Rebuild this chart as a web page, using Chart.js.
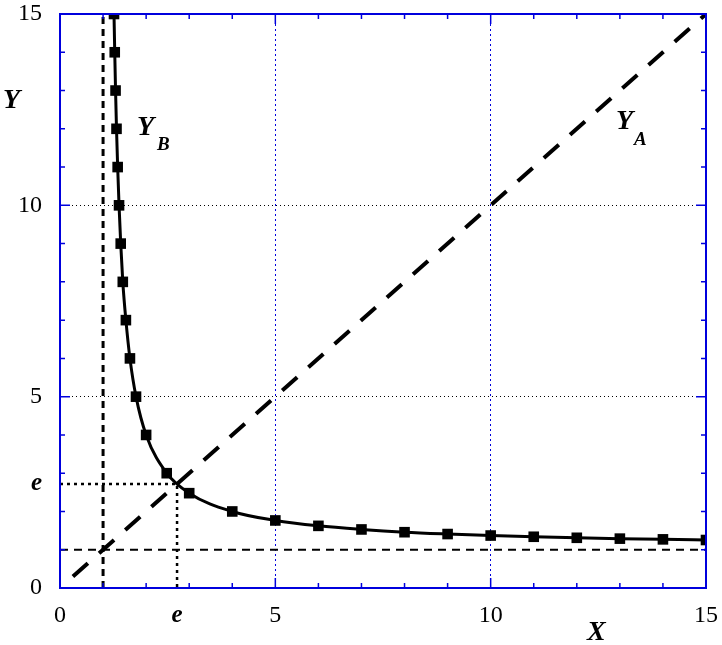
<!DOCTYPE html>
<html>
<head>
<meta charset="utf-8">
<script src="https://cdn.jsdelivr.net/npm/chart.js@4.4.1/dist/chart.umd.min.js"></script>
<style>
  body { margin: 0; background: #fff; }
  #wrap { width: 722px; height: 645px; }
</style>
</head>
<body>
<div id="wrap"><canvas id="curveChart" width="722" height="645"></canvas></div>
<script>
const E = 2.718;

// Y_B curve points (x^y = y^x branch)
const bX = [1.254, 1.271, 1.29, 1.312, 1.339, 1.371, 1.41, 1.458, 1.53, 1.624, 1.765, 2, 2.478, 3, 4, 5, 6, 7, 8, 9, 10, 11, 12, 13, 14, 15];
const bY = [15, 14, 13, 12, 11, 10, 9, 8, 7, 6, 5, 4, 3, 2.478, 2, 1.765, 1.624, 1.53, 1.458, 1.41, 1.371, 1.339, 1.312, 1.29, 1.271, 1.254];

// Y_A = X line
const aX = [0.3, 15];
const aY = [0.3, 15];

// asymptotes and e guides
const vOneX = [1, 1];
const vOneY = [0, 15];
const hOneX = [0, 15];
const hOneY = [1, 1];
const eGuideX = [0, E, E];
const eGuideY = [E, E, 0];

const xTickVals = [0, 5, 10, 15, E];
const yTickVals = [0, 5, 10, 15, E];
const minorVals = [1, 2, 3, 4, 5, 6, 7, 8, 9, 10, 11, 12, 13, 14];

const BLUE = '#0000dd';
const SERIF = '"Liberation Serif", "Times New Roman", Times, serif';

const pts = (xs, ys) => xs.map((x, i) => ({ x: x, y: ys[i] }));

function tickFont(ctx) {
  if (ctx.tick && ctx.tick.value === E) return { family: SERIF, size: 25, weight: 'bold', style: 'italic' };
  return { family: SERIF, size: 24 };
}
function tickText(v) {
  return v === E ? 'e' : v;
}

// frame, inside ticks and labels
const framePlugin = {
  id: 'frame',
  afterDraw(chart) {
    const { ctx, chartArea: a, scales } = chart;
    const xs = scales.x, ys = scales.y;
    ctx.save();
    ctx.strokeStyle = BLUE;
    ctx.lineWidth = 2;
    ctx.strokeRect(a.left, a.top, a.right - a.left, a.bottom - a.top);
    ctx.lineWidth = 1.5;
    minorVals.forEach(v => {
      const len = (v % 5 === 0) ? 10 : 5;
      const px = xs.getPixelForValue(v);
      const py = ys.getPixelForValue(v);
      ctx.beginPath();
      ctx.moveTo(px, a.bottom); ctx.lineTo(px, a.bottom - len);
      ctx.moveTo(px, a.top); ctx.lineTo(px, a.top + len);
      ctx.moveTo(a.left, py); ctx.lineTo(a.left + len, py);
      ctx.moveTo(a.right, py); ctx.lineTo(a.right - len, py);
      ctx.stroke();
    });

    ctx.fillStyle = '#000';
    ctx.textAlign = 'left';
    ctx.textBaseline = 'alphabetic';
    ctx.font = 'italic bold 28px ' + SERIF;
    ctx.fillText('Y', 3, 108);
    ctx.fillText('X', 587, 640);
    ctx.fillText('Y', 137, 135);
    ctx.fillText('Y', 616, 129);
    ctx.font = 'italic bold 19px ' + SERIF;
    ctx.fillText('B', 157, 150);
    ctx.fillText('A', 634, 145);
    ctx.restore();
  }
};

const ctx = document.getElementById('curveChart');
new Chart(ctx, {
  type: 'scatter',
  data: {
    datasets: [
      {
        label: 'Y_B',
        data: pts(bX, bY),
        showLine: true,
        borderColor: '#000',
        borderWidth: 3,
        cubicInterpolationMode: 'monotone',
        pointStyle: 'rect',
        pointRadius: 7.5,
        pointBackgroundColor: '#000',
        pointBorderWidth: 0
      },
      {
        label: 'Y_A',
        data: pts(aX, aY),
        showLine: true,
        borderColor: '#000',
        borderWidth: 4,
        borderDash: [20, 15],
        pointRadius: 0
      },
      {
        label: 'x=1',
        data: pts(vOneX, vOneY),
        showLine: true,
        borderColor: '#000',
        borderWidth: 3,
        borderDash: [7, 5],
        pointRadius: 0
      },
      {
        label: 'y=1',
        data: pts(hOneX, hOneY),
        showLine: true,
        borderColor: '#000',
        borderWidth: 2,
        borderDash: [8, 6],
        pointRadius: 0
      },
      {
        label: 'e',
        data: pts(eGuideX, eGuideY),
        showLine: true,
        borderColor: '#000',
        borderWidth: 2.5,
        borderDash: [3, 4],
        pointRadius: 0
      }
    ]
  },
  options: {
    responsive: false,
    animation: false,
    events: [],
    layout: { padding: { top: 14, right: 16, left: 0, bottom: 0 } },
    plugins: {
      legend: { display: false },
      tooltip: { enabled: false }
    },
    scales: {
      x: {
        type: 'linear',
        min: 0,
        max: 15,
        afterBuildTicks: s => { s.ticks = xTickVals.map(v => ({ value: v })); },
        afterFit: s => { s.height = 57; s.paddingLeft = 0; s.paddingRight = 0; },
        grid: {
          color: c => (c.tick && (c.tick.value === 5 || c.tick.value === 10)) ? BLUE : 'rgba(0,0,0,0)',
          lineWidth: 1,
          drawTicks: false
        },
        border: { display: false, dash: [2, 3] },
        ticks: {
          color: '#000',
          font: tickFont,
          padding: 13,
          maxRotation: 0,
          autoSkip: false,
          callback: tickText
        }
      },
      y: {
        type: 'linear',
        min: 0,
        max: 15,
        afterBuildTicks: s => { s.ticks = yTickVals.map(v => ({ value: v })); },
        afterFit: s => { s.width = 60; s.paddingTop = 0; s.paddingBottom = 0; },
        grid: {
          color: c => (c.tick && (c.tick.value === 5 || c.tick.value === 10)) ? '#000' : 'rgba(0,0,0,0)',
          lineWidth: 1,
          drawTicks: false
        },
        border: { display: false, dash: [1, 3] },
        ticks: {
          color: '#000',
          font: tickFont,
          padding: 18,
          autoSkip: false,
          callback: tickText
        }
      }
    }
  },
  plugins: [framePlugin]
});
</script>
</body>
</html>
